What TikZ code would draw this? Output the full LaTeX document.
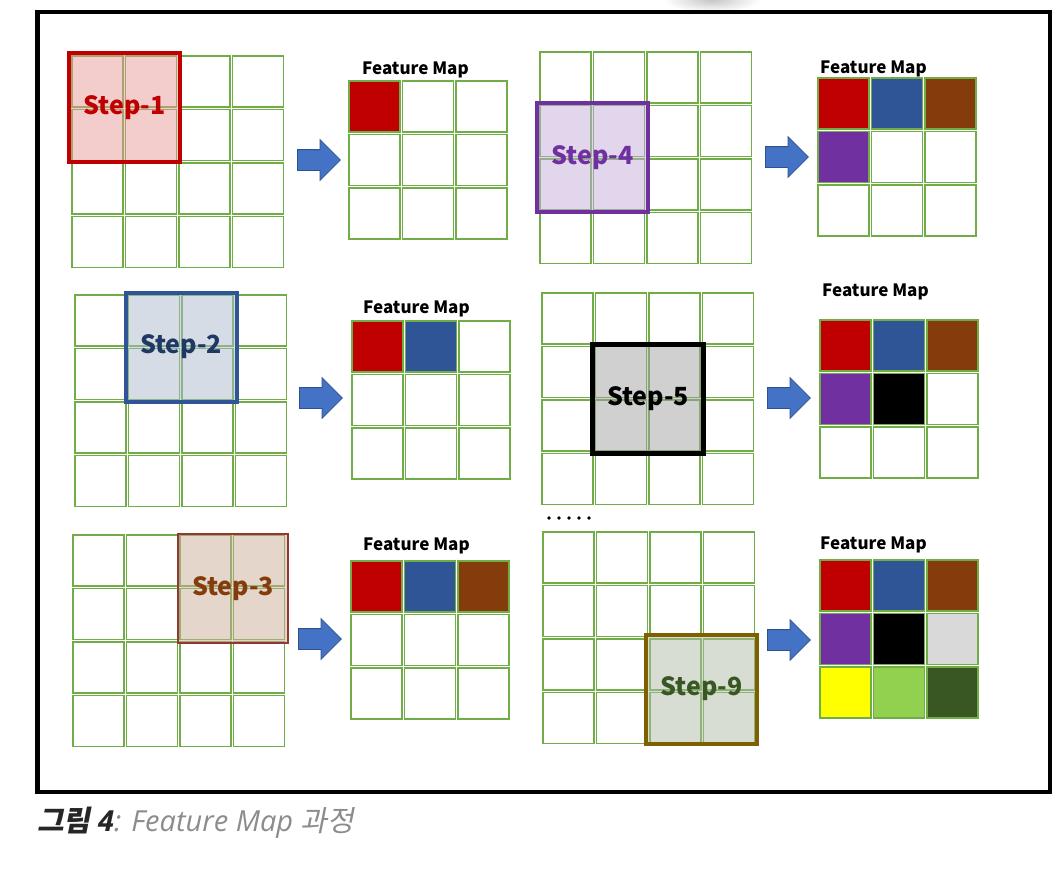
\documentclass[tikz,border=0pt]{standalone}
\usepackage{fontspec}
\setmainfont{Open Sans}
\newfontfamily\krfont{Noto Sans CJK KR}[FakeSlant=0.2]
\newfontfamily\stepfont{Noto Sans CJK KR}
\usetikzlibrary{shapes.arrows}

\definecolor{cellgreen}{RGB}{112,173,71}
\definecolor{fmred}{RGB}{192,0,0}
\definecolor{fmblue}{RGB}{47,85,151}
\definecolor{fmbrown}{RGB}{132,60,12}
\definecolor{fmpurple}{RGB}{112,48,160}
\definecolor{fmgrey}{RGB}{217,217,217}
\definecolor{fmyellow}{RGB}{255,255,0}
\definecolor{fmlime}{RGB}{146,208,80}
\definecolor{fmdark}{RGB}{56,87,35}
\definecolor{arrowblue}{RGB}{68,114,196}
\definecolor{arrowedge}{RGB}{47,82,143}
\definecolor{navy}{RGB}{31,56,100}
\definecolor{olive}{RGB}{127,96,0}
\definecolor{rust}{RGB}{148,54,52}
\definecolor{captdark}{RGB}{38,38,38}
\definecolor{captgrey}{RGB}{140,140,140}

\tikzset{
	cell/.style={draw=cellgreen, line width=1.3pt},
	stepbox/.style={draw, line width=4pt, minimum width=111pt, minimum height=109pt, inner sep=0pt,
		fill opacity=0.5, text opacity=1, font=\stepfont\bfseries\fontsize{25}{25}\selectfont},
	fmlabel/.style={anchor=base west, inner sep=0pt, font=\stepfont\bfseries\fontsize{17}{17}\selectfont},
	blockarrow/.style={single arrow, single arrow head extend=10pt, minimum height=43pt,
		inner xsep=0pt, inner ysep=10pt, fill=arrowblue, draw=arrowedge, line width=0.8pt, anchor=tail}
}

% 4x4 input, top left corner
\newcommand{\inputgrid}[2]{%
	\foreach \r in {0,...,3} \foreach \c in {0,...,3}
		\draw[cell] ({#1+53.5*\c},{#2+53.5*\r}) rectangle ++(51,51);}
% 3x3 feature map, top left corner, filled cells col/row/colour
\newcommand{\featuremap}[3]{%
	\foreach \c/\r/\k in {#3}
		\fill[\k] ({#1+53.5*\c},{#2+53.5*\r}) rectangle ++(51,51);
	\foreach \r in {0,...,2} \foreach \c in {0,...,2}
		\draw[cell] ({#1+53.5*\c},{#2+53.5*\r}) rectangle ++(51,51);}

\begin{document}
\begin{tikzpicture}[x=1pt,y=-1pt]
	\useasboundingbox (0,0) rectangle (1062,868);
	\shade[inner color=gray!45, outer color=white] (712,0) ellipse (48 and 12);
	
	% step 1
	\inputgrid{72}{56}
	\node[stepbox, draw=fmred, fill={rgb,255:red,231;green,153;blue,153}, text=fmred] (s1) at (124.5,107.5) {Step-1};
	\node[blockarrow] (a1) at (297,160) {};
	\node[fmlabel] (l1) at (362,74) {Feature Map};
	\featuremap{349}{81}{0/0/fmred}
	
	% step 2
	\inputgrid{75}{295}
	\node[stepbox, draw=fmblue, fill={rgb,255:red,173;green,185;blue,203}, text=navy] (s2) at (181,347) {Step-2};
	\node[blockarrow] (a2) at (299,398) {};
	\node[fmlabel] (l2) at (363,313) {Feature Map};
	\featuremap{352}{321}{0/0/fmred,1/0/fmblue}
	
	% step 3
	\inputgrid{73}{535}
	\node[stepbox, line width=1.5pt, minimum width=110pt, minimum height=109pt, draw=rust,
		fill={rgb,255:red,203;green,173;blue,153}, text=fmbrown] (s3) at (233,588.5) {Step-3};
	\node[blockarrow] (a3) at (298,639) {};
	\node[fmlabel] (l3) at (363,550) {Feature Map};
	\featuremap{351}{561}{0/0/fmred,1/0/fmblue,2/0/fmbrown}
	
	% step 4
	\inputgrid{540}{52}
	\node[stepbox, draw=fmpurple, fill={rgb,255:red,195;green,173;blue,217}, text=fmpurple] (s4) at (592.5,157.5) {Step-4};
	\node[blockarrow] (a4) at (765,157) {};
	\node[fmlabel] (l4) at (820,73) {Feature Map};
	\featuremap{818}{78}{0/0/fmred,1/0/fmblue,2/0/fmbrown,0/1/fmpurple}
	
	% step 5
	\inputgrid{542}{293}
	\draw[cell] (542,451) -- (753,451);
	\node[stepbox, line width=4.5pt, draw=black, fill={rgb,255:red,161;green,161;blue,161}, text=black] (s5) at (648,399) {Step-5};
	\node[blockarrow] (a5) at (767,398) {};
	\node[fmlabel] (l5) at (822,296) {Feature Map};
	\featuremap{820}{320}{0/0/fmred,1/0/fmblue,2/0/fmbrown,0/1/fmpurple,1/1/black}
	\foreach \i in {0,...,4} \fill (549+10*\i,518) circle (1.8);
	
	% step 9
	\inputgrid{543}{532}
	\node[stepbox, draw=olive, fill={rgb,255:red,177;green,187;blue,169}, text=fmdark] (s9) at (701.5,689) {Step-9};
	\node[blockarrow] (a9) at (767,640) {};
	\node[fmlabel] (l9) at (820,549) {Feature Map};
	\featuremap{820}{560}{0/0/fmred,1/0/fmblue,2/0/fmbrown,0/1/fmpurple,1/1/black,2/1/fmgrey,0/2/fmyellow,1/2/fmlime,2/2/fmdark}
	
	\draw[line width=4.5pt] (37.5,12) rectangle (1050,792);
	\node[anchor=base west, inner sep=0pt, font=\fontsize{29}{29}\selectfont] (cap) at (37,831)
		{\color{captdark}{\krfont\bfseries 그림} {\bfseries\itshape 4}\color{captgrey}\itshape: Feature Map {\krfont 과정}};
\end{tikzpicture}
\end{document}
